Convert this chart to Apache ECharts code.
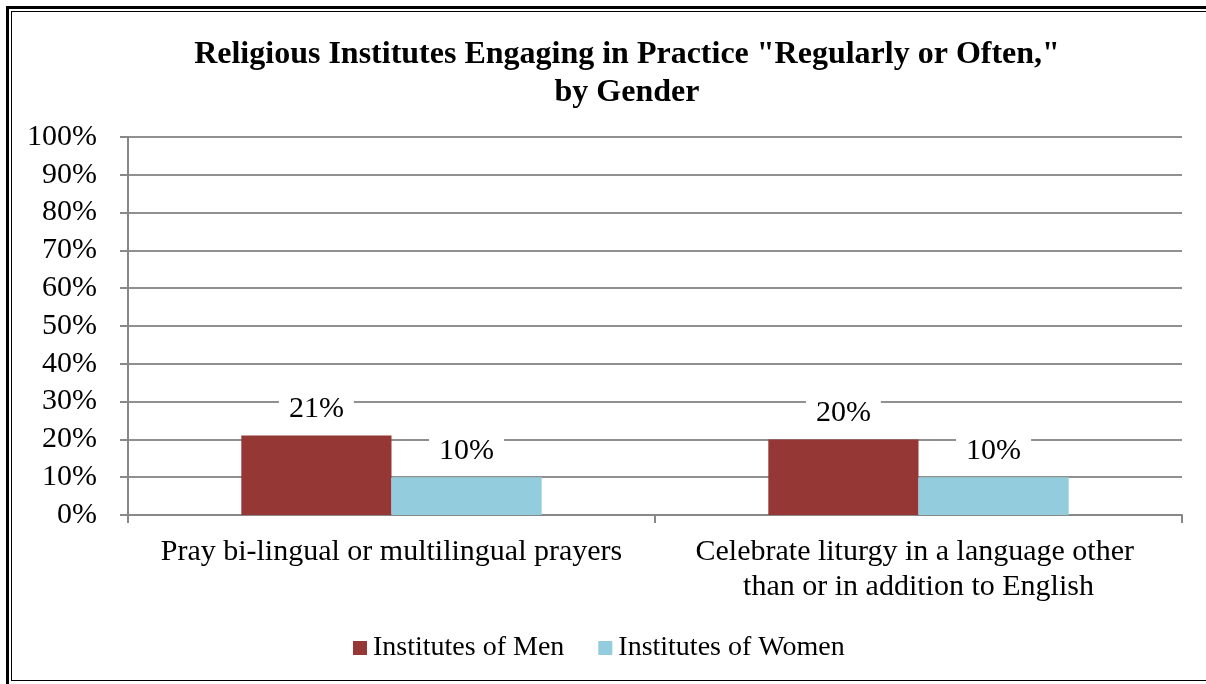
<!DOCTYPE html>
<html>
<head>
    <meta charset="utf-8">
    <title>Religious Institutes Engaging in Practice</title>
    <script src="https://cdn.jsdelivr.net/npm/echarts@6/dist/echarts.min.js"></script>
    <style>
        * {
            margin: 0;
            padding: 0
        }

        html, body {
            width: 1206px;
            height: 684px;
            overflow: hidden;
            background: #fff;
        }

        /* double frame, cut off on the right and bottom like the original */
        .frame-outer {
            position: absolute;
            left: 6px;
            top: 6px;
            width: 1220px;
            height: 690px;
            border: 3px solid #000;
        }

        .frame-inner {
            position: absolute;
            left: 11px;
            top: 11px;
            width: 1220px;
            height: 668px;
            border: 1.5px solid #000;
        }

        #main {
            position: absolute;
            left: 0;
            top: 0;
            width: 1206px;
            height: 684px;
        }
    </style>
</head>
<body>
<div class="frame-outer"></div>
<div class="frame-inner"></div>
<div id="main"></div>

<script type="text/javascript">
    var categories = [
        'Pray bi-lingual or multilingual prayers',
        'Celebrate liturgy in a language other than or in addition to English'
    ];
    var seriesNames = ['Institutes of Men', 'Institutes of Women'];
    var menValues = [21, 20];
    var womenValues = [10, 10];

    var serif = '"Liberation Serif", "DejaVu Serif", serif';

    var chart = echarts.init(document.getElementById('main'));

    var barLabel = {
        show: true,
        position: 'top',
        distance: 10,
        formatter: '{c}%',
        fontFamily: serif,
        fontSize: 30,
        color: '#000',
        backgroundColor: '#fff',
        padding: [1, 10]
    };

    chart.setOption({
        animation: false,
        title: {
            text: 'Religious Institutes Engaging in Practice "Regularly or Often,"\nby Gender',
            left: 622,
            top: 31,
            textAlign: 'center',
            textStyle: {
                fontFamily: serif,
                fontWeight: 'bold',
                fontSize: 32,
                lineHeight: 38,
                color: '#000'
            }
        },
        legend: {
            left: 353,
            top: 634,
            padding: 0,
            itemWidth: 14,
            itemHeight: 14,
            itemGap: 34,
            icon: 'rect',
            textStyle: {
                fontFamily: serif,
                fontSize: 28,
                color: '#000',
                padding: [0, 0, 0, 1]
            },
            data: seriesNames
        },
        grid: {
            left: 128,
            right: 24,
            top: 137,
            bottom: 169
        },
        xAxis: {
            type: 'category',
            data: categories,
            axisLine: {lineStyle: {color: '#888', width: 2}},
            axisTick: {show: true, length: 8, lineStyle: {color: '#888', width: 2}},
            axisLabel: {
                margin: 20,
                fontFamily: serif,
                fontSize: 30,
                lineHeight: 35,
                color: '#000',
                width: 480,
                overflow: 'break',
                interval: 0
            }
        },
        yAxis: {
            type: 'value',
            min: 0,
            max: 100,
            interval: 10,
            axisLine: {show: true, lineStyle: {color: '#888', width: 2}},
            axisTick: {show: true, length: 8, lineStyle: {color: '#888', width: 2}},
            splitLine: {lineStyle: {color: '#909090', width: 2}},
            axisLabel: {
                formatter: '{value}%',
                margin: 31,
                fontFamily: serif,
                fontSize: 30,
                color: '#000'
            }
        },
        series: [
            {
                name: seriesNames[0],
                type: 'bar',
                data: menValues,
                barGap: '0%',
                barCategoryGap: '43%',
                itemStyle: {color: '#953735'},
                label: barLabel
            },
            {
                name: seriesNames[1],
                type: 'bar',
                data: womenValues,
                itemStyle: {color: '#93CDDD'},
                label: barLabel
            }
        ]
    });
</script>
</body>
</html>
